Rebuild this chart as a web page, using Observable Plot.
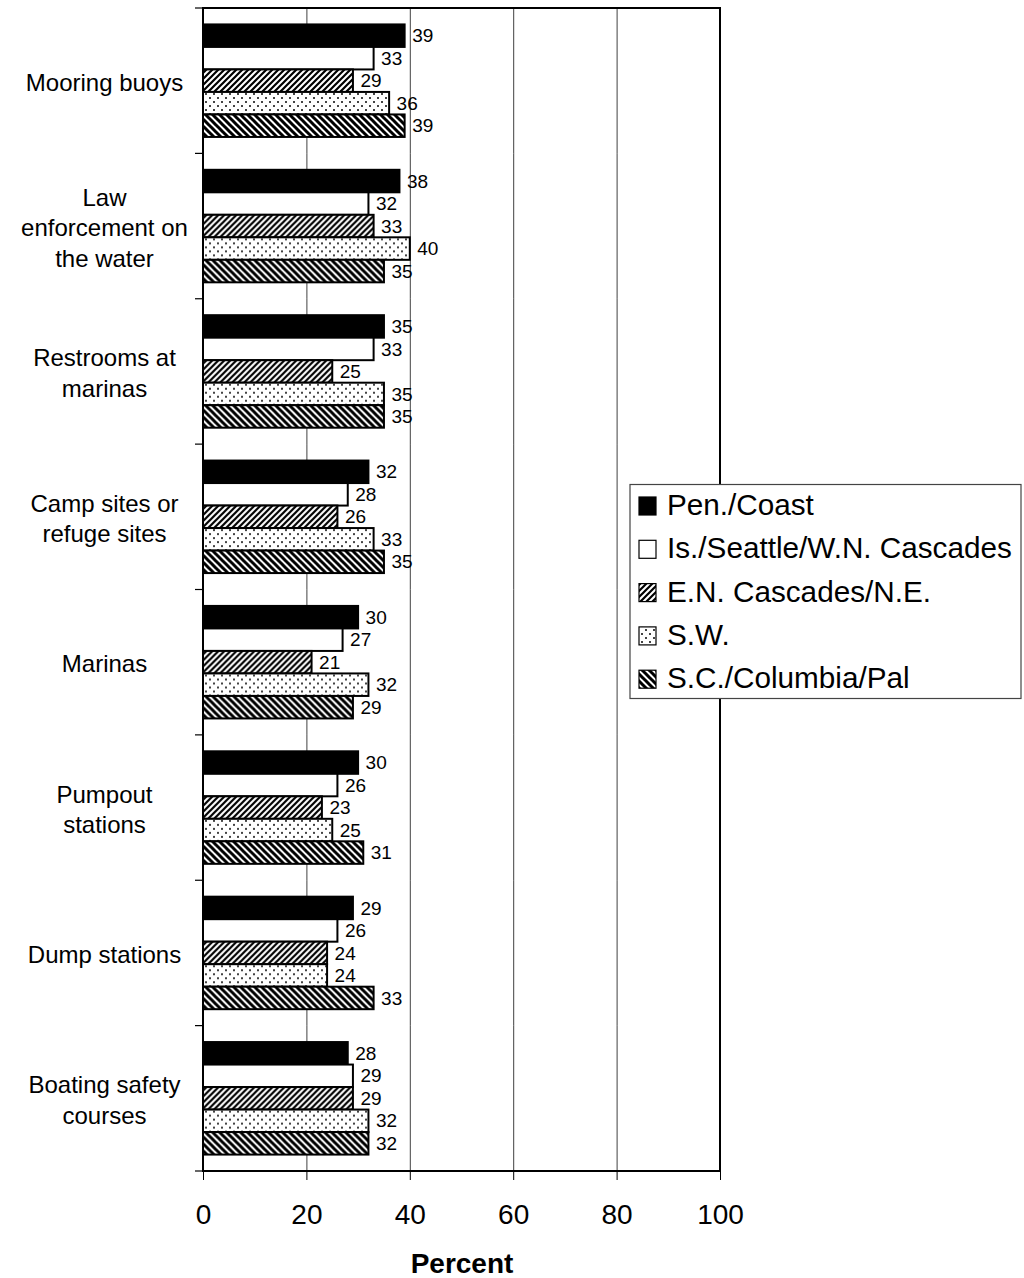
<!DOCTYPE html>
<html><head><meta charset="utf-8">
<script src="https://cdn.jsdelivr.net/npm/d3@7"></script>
<script src="https://cdn.jsdelivr.net/npm/@observablehq/plot@0.6"></script>
<style>body{margin:0;background:#fff;}</style>
</head><body><div id="chart"></div>
<script>
const categories = ["Mooring buoys","Law enforcement on the water","Restrooms at marinas","Camp sites or refuge sites","Marinas","Pumpout stations","Dump stations","Boating safety courses"];
const categoryLabels = ["Mooring buoys","Law\nenforcement on\nthe water","Restrooms at\nmarinas","Camp sites or\nrefuge sites","Marinas","Pumpout\nstations","Dump stations","Boating safety\ncourses"];
const series = ["Pen./Coast","Is./Seattle/W.N. Cascades","E.N. Cascades/N.E.","S.W.","S.C./Columbia/Pal"];
const penCoast   = [39,38,35,32,30,30,29,28];
const isSeattle  = [33,32,33,28,27,26,26,29];
const enCascades = [29,33,25,26,21,23,24,29];
const southWest  = [36,40,35,33,32,25,24,32];
const scColumbia = [39,35,35,35,29,31,33,32];
const xTicks = [0,20,40,60,80,100];
const gridTicks = [20,40,60,80];
const xLabel = "Percent";

const seriesValues = [penCoast, isSeattle, enCascades, southWest, scColumbia];
const data = [];
categories.forEach((c, i) => series.forEach((s, j) => data.push({category: c, series: s, value: seriesValues[j][i]})));
const fills = ["black","white","url(#pat-fwd)","url(#pat-dots)","url(#pat-back)"];
const font = "'Liberation Sans', Arial, sans-serif";

const chart = Plot.plot({
  width: 1024, height: 1278,
  marginLeft: 203, marginRight: 304, marginTop: 8, marginBottom: 107,
  style: {fontFamily: font, background: "white", color: "black"},
  x: {domain: [0, 100]},
  y: {domain: series, paddingInner: 0, paddingOuter: 0.73, axis: null, round: false},
  fy: {domain: categories, padding: 0, axis: null, round: false},
  color: {type: "ordinal", domain: series, range: fills},
  marks: [
    Plot.gridX(gridTicks, {stroke: "#000", strokeOpacity: 0.75, strokeWidth: 1}),
    Plot.barX(data, {x: "value", y: "series", fy: "category", fill: "series", stroke: "black", strokeWidth: 2}),
    Plot.text(data, {x: "value", y: "series", fy: "category", text: d => String(d.value), dx: 7, textAnchor: "start", fontSize: 19, fill: "black"}),
    Plot.text(categories, {fy: d => d, text: (d, i) => categoryLabels[i], frameAnchor: "left", dx: -99, textAnchor: "middle", fontSize: 24, lineHeight: 1.27, fill: "black"}),
    Plot.text([xLabel], {fy: [categories[categories.length - 1]], frameAnchor: "bottom", lineAnchor: "middle", dy: 93, fontSize: 28, fontWeight: "bold", fill: "black"}),
    Plot.axisX({ticks: xTicks, tickSize: 9, tickPadding: 24, fontSize: 28, label: null, strokeWidth: 1})
  ]
});

const svg = d3.select(chart);
const defs = svg.insert("defs", ":first-child");
// forward hatch
const p1 = defs.append("pattern").attr("id", "pat-fwd").attr("patternUnits", "userSpaceOnUse").attr("width", 6).attr("height", 6);
p1.append("rect").attr("width", 6).attr("height", 6).attr("fill", "white");
p1.append("path").attr("d", "M-1,1 l2,-2 M0,6 l6,-6 M5,7 l2,-2").attr("stroke", "black").attr("stroke-width", 2.2);
// dots
const p2 = defs.append("pattern").attr("id", "pat-dots").attr("patternUnits", "userSpaceOnUse").attr("width", 8).attr("height", 8);
p2.append("rect").attr("width", 8).attr("height", 8).attr("fill", "white");
p2.append("rect").attr("x", 1).attr("y", 1).attr("width", 2).attr("height", 2).attr("fill", "#444");
p2.append("rect").attr("x", 5).attr("y", 5).attr("width", 2).attr("height", 2).attr("fill", "#444");
// back hatch
const p3 = defs.append("pattern").attr("id", "pat-back").attr("patternUnits", "userSpaceOnUse").attr("width", 7).attr("height", 7);
p3.append("rect").attr("width", 7).attr("height", 7).attr("fill", "white");
p3.append("path").attr("d", "M-1,6 l2,2 M0,0 l7,7 M6,-1 l2,2").attr("stroke", "black").attr("stroke-width", 3);

const x = chart.scale("x"), fy = chart.scale("fy");
const x0 = x.apply(0), x1 = x.apply(100);
const yTop = fy.apply(categories[0]);
const yBot = fy.apply(categories[categories.length - 1]) + fy.bandwidth;
const deco = svg.append("g");
const bounds = categories.map(c => fy.apply(c)).concat([yBot]);
deco.selectAll("line").data(bounds).join("line")
  .attr("x1", x0 - 8).attr("x2", x0).attr("y1", d => d).attr("y2", d => d)
  .attr("stroke", "black").attr("stroke-width", 1.2);
deco.append("rect").attr("x", x0).attr("y", yTop).attr("width", x1 - x0).attr("height", yBot - yTop)
  .attr("fill", "none").attr("stroke", "black").attr("stroke-width", 2);

// legend
const lg = svg.append("g").attr("font-family", font).attr("text-anchor", "start");
lg.append("rect").attr("x", 630).attr("y", 484.5).attr("width", 391).attr("height", 214)
  .attr("fill", "white").attr("stroke", "#444").attr("stroke-width", 1.2);
series.forEach((s, i) => {
  const y = 497 + 43.3 * i;
  lg.append("rect").attr("x", 639).attr("y", y).attr("width", 17).attr("height", 18)
    .attr("fill", fills[i]).attr("stroke", "black").attr("stroke-width", 1.2);
  lg.append("text").attr("x", 667).attr("y", y + 18).attr("font-size", 29.7).attr("fill", "black")
    .attr("text-anchor", "start").text(s);
});

document.getElementById("chart").appendChild(chart);
</script>
</body></html>
